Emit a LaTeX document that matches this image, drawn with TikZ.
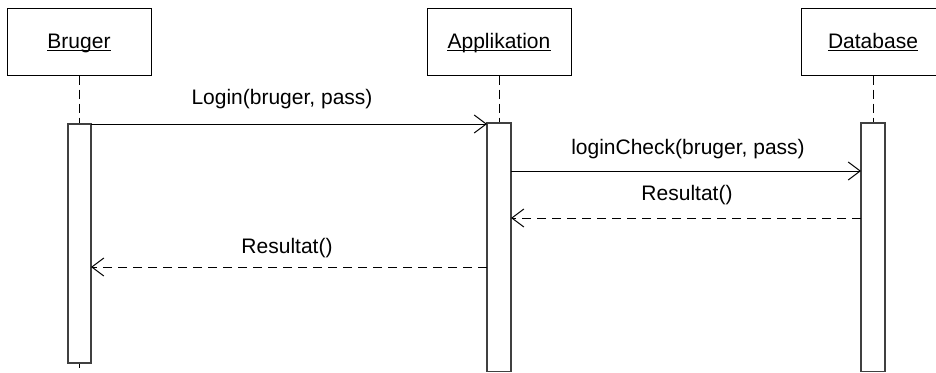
\documentclass[tikz,border=0pt]{standalone}
\usepackage{fontspec}
\setmainfont{Liberation Sans}
\usetikzlibrary{arrows.meta}
\begin{document}
\begin{tikzpicture}[x=1pt,y=-1pt,
  font=\fontsize{21}{25}\selectfont,
  header/.style={draw, line width=1pt, minimum width=144pt, minimum height=67pt, inner sep=0pt},
  lifeline/.style={line width=1pt, dash pattern=on 9pt off 5pt},
  activation/.style={draw, fill=white, line width=1.1pt, draw=black!75},
  call/.style={line width=1pt, -{Straight Barb[length=12pt, width=18pt, line width=1pt]}},
  reply/.style={call, dash pattern=on 9pt off 6pt},
  label/.style={anchor=base, inner sep=0pt},
  uline/.style={line width=1.2pt}]
  \useasboundingbox (0,0) rectangle (936,372);
  \clip (0,0) rectangle (936,372);

  % participants
  \node[header] (bruger) at (79,41.5) {};
  \node[header] (app) at (499,41.5) {};
  \node[header] (db) at (873,41.5) {};
  \node[label] (tb) at (79,48) {Bruger};
  \node[label] (ta) at (499,48) {Applikation};
  \node[label] (td) at (873,48) {Database};
  \foreach \t in {tb,ta,td}
    \draw[uline] ([yshift=-2.2pt]\t.base west) -- ([yshift=-2.2pt]\t.base east);

  % lifelines
  \coordinate (bEnd) at (79,368);
  \coordinate (aTop) at (499,123);
  \coordinate (dTop) at (873,123);
  \draw[lifeline] (bruger.south) -- (79,124);
  \draw[lifeline] (79,363) -- (bEnd);
  \draw[lifeline] (app.south) -- (aTop);
  \draw[lifeline] (db.south) -- (dTop);

  % activation bars
  \path[activation] (68,124) rectangle (91,363);
  \path[activation] (487,123) rectangle (511,371.5);
  \path[activation] (861,123) rectangle (885,371.5);
  \coordinate (b1) at (91,124);
  \coordinate (a1) at (487,124);
  \coordinate (a2) at (511,171);
  \coordinate (d2) at (861,171);
  \coordinate (d3) at (861,218);
  \coordinate (a3) at (511,218);
  \coordinate (a4) at (487,267);
  \coordinate (b4) at (91,267);

  % messages
  \draw[call] (b1) -- (a1);
  \node[label] at (282,104) {Login(bruger, pass)};
  \draw[call] (a2) -- (d2);
  \node[label] at (688,154) {loginCheck(bruger, pass)};
  \draw[reply] (d3) -- (a3);
  \node[label] at (687,200) {Resultat()};
  \draw[reply] (a4) -- (b4);
  \node[label] at (287,253) {Resultat()};
\end{tikzpicture}
\end{document}
